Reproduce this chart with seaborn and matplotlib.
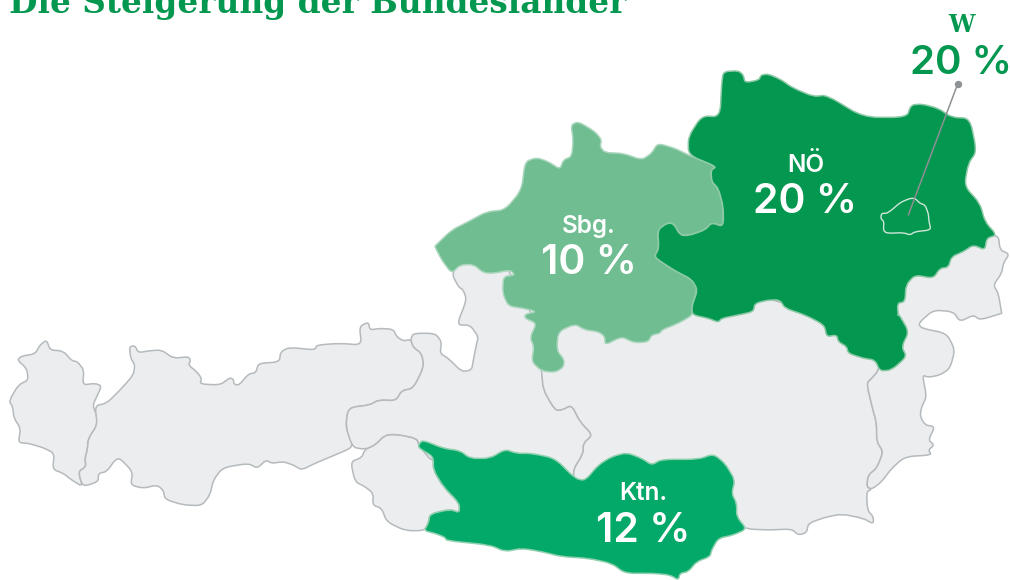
import numpy as np
import matplotlib
matplotlib.use("Agg")
import matplotlib.pyplot as plt
from matplotlib.patches import PathPatch
from matplotlib.path import Path
import seaborn as sns

# --- region labels and values -------------------------------------------
TITLE = "Die Steigerung der Bundesländer"
LABELS = ["NÖ", "Sbg.", "Ktn.", "W"]
VALUES = ["20 %", "10 %", "12 %", "20 %"]

# --- outlines, per crop of the map (3x pixel units)
Q1, Q2, Q3, Q4 = (0, 0), (1515, 0), (0, 870), (1515, 870)
Z5, Z6 = (1260, 690), (2580, 540)

VORARLBERG = [(140,150),(150,180),(190,183),(215,212),(232,215),(252,240),(248,285),(285,280),(305,288),(290,320),(278,347),(290,375),(292,405),(265,445),(262,480),(255,505),(258,530),(235,545),(248,590),(215,570),(190,550),(158,538),(163,490),(130,473),(85,460),(55,458),(62,415),(42,385),(38,350),(27,333),(55,285),(85,270),(80,235),(52,210),(65,198),(105,192),(120,165)]
TIROL = [(285,347),(320,340),(365,295),(400,255),(405,225),(392,205),(388,170),(405,167),(415,188),(450,182),(485,180),(520,205),(565,200),(572,212),(565,225),(590,245),(605,265),(600,282),(660,285),(690,263),(700,268),(702,283),(718,285),(745,252),(768,248),(775,220),(838,216),(842,185),(868,172),(945,180),(950,165),(1020,160),(1085,165),(1078,110),(1105,96),(1110,120),(1140,115),(1180,118),(1190,140),(1210,153),(1232,148),(1240,172),(1265,190),(1272,230),(1240,295),(1205,302),(1188,332),(1135,330),(1110,345),(1045,353),(1037,410),(1050,440),(1058,472),(1005,495),(945,520),(905,540),(880,525),(850,515),(815,520),(798,510),(772,535),(745,520),(668,533),(640,570),(630,615),(605,647),(550,645),(495,628),(490,600),(470,585),(430,595),(392,585),(398,545),(360,505),(345,510),(320,545),(295,550),(295,575),(248,590),(235,545),(258,530),(255,505),(262,480),(265,445),(292,405)]
OSTTIROL = [(1095,478),(1125,465),(1155,435),(1190,433),(1250,445),(1258,470),(1300,500),(1300,540),(1330,590),(1378,640),(1378,668),(1350,658),(1290,672),(1285,700),(1272,722),(1215,722),(1160,695),(1145,655),(1118,645),(1120,610),(1095,590),(1065,575),(1052,515),(1085,503)]

SBG_WEST = [(1058,472),(1037,410),(1045,353),(1110,345),(1135,330),(1188,332),(1205,302),(1240,295),(1272,230),(1265,190),(1240,172),(1232,148),(1240,130),(1305,130),(1325,155),(1320,190),(1345,205),(1385,245),(1415,240),(1420,210),(1430,160),(1435,140),(1410,105),(1370,105),(1400,30)]
SBG_NORTH = [(130,180),(115,170),(95,130),(130,70),(240,70),(365,310)]
SBG_EAST = [(110,245),(115,300),(150,360),(170,360),(200,345),(225,395),(263,435),(235,460),(235,490),(200,548),(230,620)]
SBG_SOUTH = [(1300,520),(1260,470),(1250,445),(1190,433),(1155,435),(1125,465),(1095,478)]

STMK = [(110,245),(115,300),(150,360),(170,360),(200,345),(225,395),(263,435),(235,460),(235,490),(200,548),(230,650),(700,700),(725,717),(790,720),(860,717),(880,735),(905,728),(910,700),(960,682),(1010,672),(1075,685),(1105,702),(1105,680),(1087,660),(1085,605),(1100,598),(1085,590),(1090,555),(1115,535),(1135,485),(1115,455),(1115,400),(1100,345),(1085,280),(1100,265),(1120,243),(1130,200),(800,10),(500,50),(130,60),(100,180)]

BGLD_NORTH = [(415,165),(420,210),(448,222),(430,250),(425,280),(400,315),(415,340),(425,400)]
BGLD_EAST = [(1490,70),(1425,90),(1405,75),(1365,95),(1345,65),(1285,60),(1240,100),(1250,115),(1325,130),(1350,180),(1335,235),(1305,255),(1270,262),(1252,255),(1265,320),(1250,350),(1245,378),(1260,405),(1290,410),(1270,450),(1288,465),(1270,480),(1280,495),(1200,500),(1160,535),(1130,575),(1100,598),(1085,590),(1090,555),(1115,535),(1135,485),(1115,455),(1115,400),(1100,345),(1085,280),(1100,265),(1120,243),(1160,100)]
BGLD_HIDDEN = [(100,300),(200,240),(360,170)]

NOE_NORTH = [(655,215),(700,212),(715,225),(720,248),(762,240),(768,225),(790,222),(830,240),(860,262),(925,290),(965,285),(1075,352),(1205,352),(1218,315),(1250,312),(1300,325),(1340,352),(1395,355),(1415,455),(1390,490),(1378,558),(1425,610),(1440,665),(1475,705)]
NOE_BGLD = [(380,175),(375,210),(340,195),(310,215),(275,230),(265,262),(240,265),(220,295),(165,285),(138,315),(135,365),(112,370),(115,410)]
NOE_SOUTH = [(1180,70),(1212,125),(1190,170),(1205,200),(1160,240),(1125,243),(1110,210),(1075,205),(1030,190),(1025,170),(1000,155),(995,135),(965,140),(958,105),(900,75),(840,55),(825,30),(790,30),(750,40),(745,65),(700,75),(650,85),(640,97),(610,85),(563,75),(560,50),(578,0)]
NOE_WEST = [(560,838),(515,815),(475,790),(448,770),(462,745),(458,690),(485,670),(505,670),(525,705),(550,707),(600,690),(620,668),(655,680),(655,620),(640,565),(620,545),(618,510),(635,500),(550,465),(550,410),(590,348),(645,350),(650,250)]

OOE_NW = [(1305,738),(1355,690),(1405,665),(1460,635)]
OOE_NORTH = [(0,630),(50,570),(60,485),(95,473),(130,485),(165,508),(175,480),(200,470),(205,420),(198,375),(220,365),(270,395),(290,420),(285,440),(300,458),(355,460),(410,480),(440,460),(458,430),(510,445),(550,465),(635,500),(618,510),(620,545),(640,565),(655,620),(655,680),(620,668),(600,690),(550,707),(525,705),(505,670),(485,670),(458,690),(462,745),(448,770),(475,790),(515,815),(560,838),(578,865)]
OOE_SOUTH = [(560,50),(563,75),(520,100),(470,120),(465,130),(440,135),(430,155),(400,158),(380,155),(350,140),(300,165),(300,140),(280,125),(240,120),(210,102),(160,125),(155,180),(178,210),(175,232),(150,247),(110,243)]
OOE_WEST = [(335,395),(342,350),(330,322),(350,280),(315,265),(315,253),(350,245),(310,235),(265,228),(248,190),(250,140),(285,135),(270,120),(220,130),(190,128),(160,103),(120,105),(95,130),(65,90),(45,50)]

KTN_WEST_N = [(1255,465),(1268,450),(1330,475),(1380,482),(1410,505),(1470,505),(1515,478)]
KTN_EAST = [(35,490),(80,490),(150,505),(210,565),(240,572),(280,525),(320,500),(365,488),(410,505),(440,525),(470,508),(580,508),(625,492),(660,520),(690,570),(680,610),(695,640),(695,680),(725,717),(685,735),(640,745),(620,780),(615,800),(575,815),(550,845),(525,850),(520,870),(495,855),(445,850),(360,850),(320,820),(250,805),(170,800),(110,785),(50,775),(0,785)]
KTN_WEST_S = [(1470,765),(1340,752),(1335,742),(1305,730),(1272,722),(1285,700),(1290,672),(1350,658),(1378,668),(1378,640),(1330,590),(1300,540),(1300,500),(1258,475)]

WIEN = [(65,100),(80,100),(95,90),(120,68),(150,55),(165,55),(180,70),(195,75),(205,100),(207,125),(213,150),(165,155),(150,165),(130,158),(80,160),(70,150),(72,125),(62,115)]

LEADER = [(1358,252),(1210,645)]

# --- colours -------------------------------------------------------------
GREY, GREY_EDGE = "#ecedef", "#b5babd"
C_NOE, C_OOE, C_KTN = "#03974f", "#6fbd91", "#02a968"
E_NOE, E_OOE, E_KTN = "#8cc9a6", "#a9d6bc", "#8fd0ad"


def shift(off, pts):
    return [(x + off[0], y + off[1]) for x, y in pts]


def outline(*parts):
    pts = []
    for off, seg in parts:
        pts += shift(off, seg)
    return np.array(pts, float)


def smooth_path(p, cut=0.35):
    """Closed outline with the corners slightly rounded."""
    prev, nxt = np.roll(p, 1, axis=0), np.roll(p, -1, axis=0)
    verts, codes = [], []
    for i in range(len(p)):
        a = p[i] + (prev[i] - p[i]) * cut
        b = p[i] + (nxt[i] - p[i]) * cut
        verts += [a, p[i], b]
        codes += [Path.MOVETO if i == 0 else Path.LINETO, Path.CURVE3, Path.CURVE3]
    verts.append(verts[0])
    codes.append(Path.CLOSEPOLY)
    return Path(verts, codes)


sns.set_theme(style="white")
plt.rcParams["font.family"] = ["Inter", "DejaVu Sans"]
fig = plt.figure(figsize=(10.10, 5.80), dpi=100, facecolor="white")
ax = fig.add_axes([0, 0, 1, 1])


def region(p, face, edge, lw=1.1, z=2):
    ax.add_patch(PathPatch(smooth_path(p), facecolor=face, edgecolor=edge,
                           linewidth=lw, joinstyle="round", zorder=z))


# grey Länder
region(outline((Q3, VORARLBERG)), GREY, GREY_EDGE)
region(outline((Q3, TIROL)), GREY, GREY_EDGE)
region(outline((Q3, OSTTIROL)), GREY, GREY_EDGE)
region(outline((Q3, SBG_WEST), (Z5, SBG_NORTH), (Q4, SBG_EAST), (Q3, SBG_SOUTH)), GREY, GREY_EDGE)
region(outline((Q4, STMK)), GREY, GREY_EDGE)
region(outline((Z6, BGLD_NORTH), (Q4, BGLD_EAST), (Z6, BGLD_HIDDEN)), GREY, GREY_EDGE)

# coloured Länder
region(outline((Q1, OOE_NW), (Q2, OOE_NORTH), (Q4, OOE_SOUTH), (Z5, OOE_WEST)), C_OOE, E_OOE, z=3)
region(outline((Q2, NOE_NORTH), (Z6, NOE_BGLD), (Q4, NOE_SOUTH), (Q2, NOE_WEST)), C_NOE, E_NOE, z=4)
region(outline((Q3, KTN_WEST_N), (Q4, KTN_EAST), (Q3, KTN_WEST_S)), C_KTN, E_KTN, z=3)
region(outline((Z6, WIEN)), C_NOE, "#cfe6d8", lw=1.0, z=5)

# leader line to Vienna
lead = np.array(shift(Q2, LEADER))
sns.lineplot(x=lead[:, 0], y=lead[:, 1], color="#8d9094", linewidth=1.1, sort=False,
             estimator=None, ax=ax, zorder=6, legend=False)
sns.scatterplot(x=lead[:1, 0], y=lead[:1, 1], color="#8d9094", s=28, linewidth=0,
                ax=ax, zorder=6, legend=False)
ax.set_xlim(0, 3030)
ax.set_ylim(1740, 0)
ax.set_axis_off()


def label(off, x, y, s, size, color="white", weight="semibold", family=None):
    ax.text(x + off[0], y + off[1], s, ha="center", va="baseline", fontsize=size,
            color=color, fontweight=weight, zorder=7, family=family or ["Inter", "DejaVu Sans"])


label(Q2, 902, 517, LABELS[0], 17.5)
label(Q2, 901, 640, VALUES[0], 29.5)
label(Q2, 250, 700, LABELS[1], 17.5)
label(Q2, 252, 822, VALUES[1], 29.5)
label(Q4, 415, 630, LABELS[2], 17.5)
label(Q4, 415, 755, VALUES[2], 29.5)
label(Q2, 1370, 95, LABELS[3], 17, C_NOE, "bold", ["DejaVu Serif"])
label(Q2, 1368, 222, VALUES[3], 29, C_NOE)

ax.text(28, 38, TITLE, ha="left", va="baseline", fontsize=23.6, color=C_NOE,
        fontweight="bold", family=["DejaVu Serif"], zorder=7)

fig.savefig("out.png", dpi=100, facecolor="white")
